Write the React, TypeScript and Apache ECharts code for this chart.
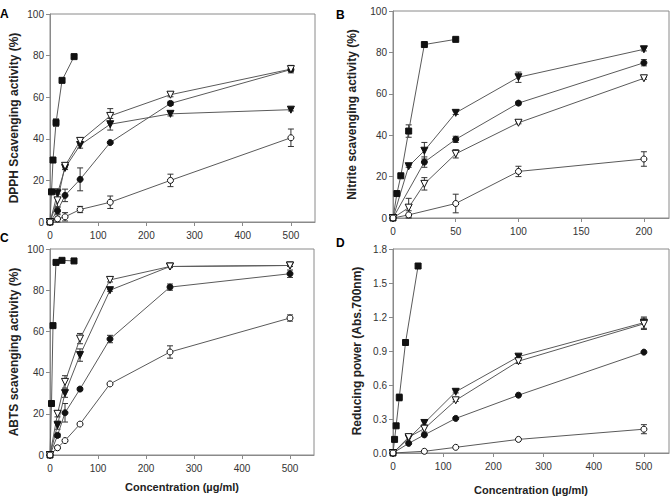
import React, { useEffect, useRef } from "react";
import * as echarts from "echarts";

// Concentrations (µg/ml)
const concControl = [0, 3.125, 6.25, 12.5, 25, 50];
const concSample = [0, 15.625, 31.25, 62.5, 125, 250, 500];
const concNitrite = [0, 12.5, 25, 50, 100, 200];

// Axis ticks
const xTicksWide = [0, 100, 200, 300, 400, 500];
const xTicksNitrite = [0, 50, 100, 150, 200];
const yTicksPercent = [0, 20, 40, 60, 80, 100];
const yTicksAbs = [0, 0.3, 0.6, 0.9, 1.2, 1.5, 1.8];

// A: DPPH scavenging activity (%)
const dpphCtrl = [0, 14.5, 29.8, 47.8, 68.1, 79.5];
const dpphCtrlErr = [0, 0, 0, 1.8, 0.6, 0.5];
const dpphFilledTri = [0, 13.8, 26, 37, 47, 52, 54];
const dpphFilledTriErr = [0, 2.2, 0.8, 1.5, 2.8, 1.0, 0.6];
const dpphOpenTri = [0, 10.4, 27, 39, 51, 61.2, 73.5];
const dpphOpenTriErr = [0, 3, 1, 1, 3.5, 1, 1.8];
const dpphFilledCircle = [0, 5.4, 12.8, 20.5, 38.2, 57, 73.3];
const dpphFilledCircleErr = [0, 1.5, 3, 5.5, 0.5, 1, 1];
const dpphOpenCircle = [0, 1.5, 2.5, 6, 9.5, 20, 40.5];
const dpphOpenCircleErr = [0, 2, 2, 1.5, 3, 3, 4.2];

// B: Nitrite scavenging activity (%)
const nitCtrl = [0, 11.8, 20.4, 42, 83.8, 86.3];
const nitCtrlErr = [0, 0.5, 0.5, 3, 0.8, 0.5];
const nitFilledTri = [0, 25, 32.5, 50.8, 68, 81.5];
const nitFilledTriErr = [0, 0.5, 4, 0.8, 2.5, 0.8];
const nitFilledCircle = [0, null, 27, 38, 55.5, 75];
const nitFilledCircleErr = [0, 0, 2.5, 1.5, 0.8, 1.5];
const nitOpenTri = [0, 5, 16.5, 31, 46, 67.5];
const nitOpenTriErr = [0, 4.5, 3, 2, 0.5, 0.5];
const nitOpenCircle = [0, 1.5, null, 7, 22.5, 28.5];
const nitOpenCircleErr = [0, 2, 0, 4.5, 2.5, 3.5];

// C: ABTS scavenging activity (%)
const abtsCtrl = [0, 25, 62.8, 93.5, 94.5, 94.2];
const abtsCtrlErr = [0, 0.5, 0.5, 0.5, 0.5, 0.5];
const abtsOpenTri = [0, 20, 35.5, 56.5, 85, 91.5, 92];
const abtsOpenTriErr = [0, 1.5, 3, 2.5, 1, 0.5, 0.5];
const abtsFilledTri = [0, 14.5, 30, 48.5, 80, 91.5, 92];
const abtsFilledTriErr = [0, 2, 2, 3, 0.5, 0.5, 0.5];
const abtsFilledCircle = [0, 9.5, 20.5, 32, 56.3, 81.5, 88];
const abtsFilledCircleErr = [0, 1, 4.5, 0.8, 1.8, 1.5, 1.8];
const abtsOpenCircle = [0, 3.5, 7, 15, 34.5, 50, 66.5];
const abtsOpenCircleErr = [0, 0.5, 0.5, 0.5, 0.5, 3, 1.5];

// D: Reducing power (Abs. 700 nm)
const redCtrl = [0, 0.12, 0.24, 0.49, 0.975, 1.65];
const redCtrlErr = [0, 0, 0, 0.03, 0, 0];
const redFilledTri = [0, null, 0.13, 0.265, 0.54, 0.85, 1.15];
const redFilledTriErr = [0, 0, 0, 0.02, 0.01, 0.02, 0.05];
const redOpenTri = [0, null, 0.14, 0.215, 0.465, 0.81, 1.14];
const redOpenTriErr = [0, 0, 0, 0.03, 0.01, 0.02, 0.05];
const redFilledCircle = [0, null, 0.085, 0.16, 0.305, 0.51, 0.89];
const redFilledCircleErr = [0, 0, 0, 0, 0, 0, 0];
const redOpenCircle = [0, null, null, 0.015, 0.05, 0.12, 0.21];
const redOpenCircleErr = [0, 0, 0, 0, 0, 0, 0.04];

const FONT = "Liberation Sans, Arial, sans-serif";
const LINE = "#5a5a5a";
const INK = "#111";
const AXIS = "#8a8a8a";

type Marker = { symbol: string; rotate: number; size: number; fill: string };
const filledSquare: Marker = { symbol: "rect", rotate: 0, size: 6, fill: INK };
const filledTri: Marker = { symbol: "triangle", rotate: 180, size: 7, fill: INK };
const openTri: Marker = { symbol: "triangle", rotate: 180, size: 7, fill: "#fff" };
const filledCircle: Marker = { symbol: "circle", rotate: 0, size: 6, fill: INK };
const openCircle: Marker = { symbol: "circle", rotate: 0, size: 6, fill: "#fff" };

type Curve = { xs: number[]; ys: (number | null)[]; err: number[]; marker: Marker };

const panels: {
  curves: Curve[];
  grid: { left: number; top: number; width: number; height: number };
  xMax: number;
  xTicks: number[];
  yMax: number;
  yTicks: number[];
  yName: string;
  yNameGap: number;
  xName: string;
  xNameGap: number;
  yDecimals: number;
}[] = [
  {
    curves: [
      { xs: concControl, ys: dpphCtrl, err: dpphCtrlErr, marker: filledSquare },
      { xs: concSample, ys: dpphFilledTri, err: dpphFilledTriErr, marker: filledTri },
      { xs: concSample, ys: dpphFilledCircle, err: dpphFilledCircleErr, marker: filledCircle },
      { xs: concSample, ys: dpphOpenTri, err: dpphOpenTriErr, marker: openTri },
      { xs: concSample, ys: dpphOpenCircle, err: dpphOpenCircleErr, marker: openCircle },
    ],
    grid: { left: 50, top: 14, width: 265, height: 208 },
    xMax: 550,
    xTicks: xTicksWide,
    yMax: 100,
    yTicks: yTicksPercent,
    yName: "DPPH Scavenging activity (%)",
    yNameGap: 30,
    xName: "",
    xNameGap: 0,
    yDecimals: 0,
  },
  {
    curves: [
      { xs: concControl, ys: nitCtrl, err: nitCtrlErr, marker: filledSquare },
      { xs: concNitrite, ys: nitFilledTri, err: nitFilledTriErr, marker: filledTri },
      { xs: concNitrite, ys: nitFilledCircle, err: nitFilledCircleErr, marker: filledCircle },
      { xs: concNitrite, ys: nitOpenTri, err: nitOpenTriErr, marker: openTri },
      { xs: concNitrite, ys: nitOpenCircle, err: nitOpenCircleErr, marker: openCircle },
    ],
    grid: { left: 393, top: 11, width: 276, height: 207 },
    xMax: 220,
    xTicks: xTicksNitrite,
    yMax: 100,
    yTicks: yTicksPercent,
    yName: "Nitrite scavenging activity (%)",
    yNameGap: 35,
    xName: "",
    xNameGap: 0,
    yDecimals: 0,
  },
  {
    curves: [
      { xs: concControl, ys: abtsCtrl, err: abtsCtrlErr, marker: filledSquare },
      { xs: concSample, ys: abtsFilledTri, err: abtsFilledTriErr, marker: filledTri },
      { xs: concSample, ys: abtsFilledCircle, err: abtsFilledCircleErr, marker: filledCircle },
      { xs: concSample, ys: abtsOpenTri, err: abtsOpenTriErr, marker: openTri },
      { xs: concSample, ys: abtsOpenCircle, err: abtsOpenCircleErr, marker: openCircle },
    ],
    grid: { left: 50, top: 249, width: 264, height: 206 },
    xMax: 550,
    xTicks: xTicksWide,
    yMax: 100,
    yTicks: yTicksPercent,
    yName: "ABTS scavenging activity (%)",
    yNameGap: 30,
    xName: "Concentration (µg/ml)",
    xNameGap: 26,
    yDecimals: 0,
  },
  {
    curves: [
      { xs: concControl, ys: redCtrl, err: redCtrlErr, marker: filledSquare },
      { xs: concSample, ys: redFilledTri, err: redFilledTriErr, marker: filledTri },
      { xs: concSample, ys: redFilledCircle, err: redFilledCircleErr, marker: filledCircle },
      { xs: concSample, ys: redOpenTri, err: redOpenTriErr, marker: openTri },
      { xs: concSample, ys: redOpenCircle, err: redOpenCircleErr, marker: openCircle },
    ],
    grid: { left: 393, top: 249, width: 276, height: 205 },
    xMax: 550,
    xTicks: xTicksWide,
    yMax: 1.8,
    yTicks: yTicksAbs,
    yName: "Reducing power (Abs.700nm)",
    yNameGap: 30,
    xName: "Concentration (µg/ml)",
    xNameGap: 31,
    yDecimals: 1,
  },
];

const letters = [
  { text: "A", x: 0, y: 8 },
  { text: "B", x: 336, y: 9 },
  { text: "C", x: 0, y: 232 },
  { text: "D", x: 336, y: 237 },
];

function buildOption() {
  const grid: any[] = [];
  const xAxis: any[] = [];
  const yAxis: any[] = [];
  const series: any[] = [];

  panels.forEach((p, i) => {
    grid.push({
      ...p.grid,
      show: true,
      borderColor: AXIS,
      borderWidth: 1,
      backgroundColor: "transparent",
    });
    xAxis.push({
      type: "value",
      gridIndex: i,
      min: 0,
      max: p.xMax,
      name: p.xName,
      nameLocation: "middle",
      nameGap: p.xNameGap,
      nameTextStyle: { fontFamily: FONT, fontSize: 11, fontWeight: "bold", color: "#222" },
      axisLine: { show: true, onZero: false, lineStyle: { color: AXIS, width: 1 } },
      axisTick: { show: true, length: 4, customValues: p.xTicks, lineStyle: { color: AXIS } },
      axisLabel: {
        customValues: p.xTicks,
        fontFamily: FONT,
        fontSize: 10,
        color: "#333",
        margin: 8,
      },
      splitLine: { show: false },
    });
    yAxis.push({
      type: "value",
      gridIndex: i,
      min: 0,
      max: p.yMax,
      name: p.yName,
      nameLocation: "middle",
      nameGap: p.yNameGap,
      nameTextStyle: { fontFamily: FONT, fontSize: 12, fontWeight: "bold", color: "#222" },
      axisLine: { show: true, onZero: false, lineStyle: { color: AXIS, width: 1 } },
      axisTick: { show: true, length: 4, customValues: p.yTicks, lineStyle: { color: AXIS } },
      axisLabel: {
        customValues: p.yTicks,
        fontFamily: FONT,
        fontSize: 10,
        color: "#333",
        margin: 6,
        formatter: (v: number) => v.toFixed(p.yDecimals),
      },
      splitLine: { show: false },
    });

    // error bars for every curve of this panel
    const errData: number[][] = [];
    p.curves.forEach((c) => {
      c.xs.forEach((x, k) => {
        const y = c.ys[k];
        if (y != null && c.err[k] > 0) errData.push([x, y, c.err[k]]);
      });
    });
    series.push({
      type: "custom",
      xAxisIndex: i,
      yAxisIndex: i,
      z: 1,
      silent: true,
      encode: { x: 0, y: 1 },
      data: errData,
      renderItem: (_params: any, api: any) => {
        const x = api.value(0);
        const y = api.value(1);
        const e = api.value(2);
        const top = api.coord([x, y + e]);
        const bot = api.coord([x, Math.max(0, y - e)]);
        const cap = 3;
        const style = { stroke: "#333", lineWidth: 1 };
        return {
          type: "group",
          children: [
            { type: "line", shape: { x1: top[0], y1: top[1], x2: bot[0], y2: bot[1] }, style },
            { type: "line", shape: { x1: top[0] - cap, y1: top[1], x2: top[0] + cap, y2: top[1] }, style },
            { type: "line", shape: { x1: bot[0] - cap, y1: bot[1], x2: bot[0] + cap, y2: bot[1] }, style },
          ],
        };
      },
    });

    p.curves.forEach((c) => {
      const data: number[][] = [];
      c.xs.forEach((x, k) => {
        const y = c.ys[k];
        if (y != null) data.push([x, y]);
      });
      series.push({
        type: "line",
        xAxisIndex: i,
        yAxisIndex: i,
        z: 2,
        data,
        symbol: c.marker.symbol,
        symbolRotate: c.marker.rotate,
        symbolSize: c.marker.size,
        showAllSymbol: true,
        lineStyle: { color: LINE, width: 1 },
        itemStyle: { color: c.marker.fill, borderColor: INK, borderWidth: 1 },
        emphasis: { disabled: true },
      });
    });
  });

  return {
    animation: false,
    backgroundColor: "#fff",
    grid,
    xAxis,
    yAxis,
    series,
    graphic: letters.map((l) => ({
      type: "text",
      left: l.x,
      top: l.y,
      style: { text: l.text, fontFamily: FONT, fontSize: 12, fontWeight: "bold", fill: "#000" },
    })),
  };
}

export default function App() {
  const ref = useRef<HTMLDivElement>(null);
  useEffect(() => {
    if (!ref.current) return;
    const chart = echarts.init(ref.current, undefined, { renderer: "svg" });
    chart.setOption(buildOption());
    return () => chart.dispose();
  }, []);
  return (
    <div
      ref={ref}
      style={{ position: "absolute", left: 0, top: 0, width: 672, height: 496, background: "#fff" }}
    />
  );
}
